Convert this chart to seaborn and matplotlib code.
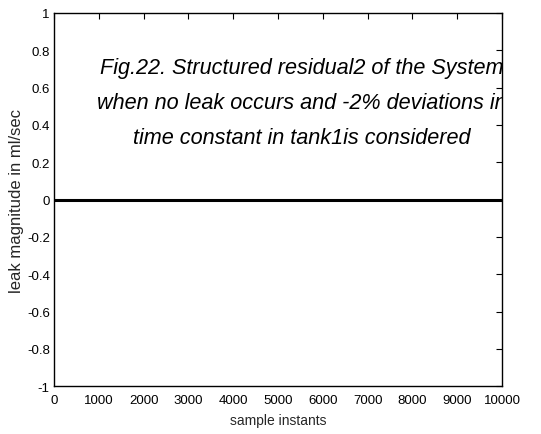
import matplotlib
matplotlib.use("Agg")
import matplotlib.pyplot as plt
import seaborn as sns
import pandas as pd

# Structured residual 2 over the run (stays at zero throughout)
sample_instants = [0, 10000]
residual2 = [0.0, 0.0]

x_ticks = [0, 1000, 2000, 3000, 4000, 5000, 6000, 7000, 8000, 9000, 10000]
y_ticks = [-1, -0.8, -0.6, -0.4, -0.2, 0, 0.2, 0.4, 0.6, 0.8, 1]
y_tick_labels = ["-1", "-0.8", "-0.6", "-0.4", "-0.2", "0", "0.2", "0.4", "0.6", "0.8", "1"]

caption = ("Fig.22. Structured residual2 of the System\n"
           "when no leak occurs and -2% deviations in\n"
           "time constant in tank1is considered")

sns.set_theme(style="white")
plt.rcParams["font.family"] = ["Liberation Sans", "DejaVu Sans"]

df = pd.DataFrame({"sample instants": sample_instants, "residual": residual2})

fig = plt.figure(figsize=(5.41, 4.35), dpi=100)
ax = fig.add_axes([0.0998, 0.110, 0.8282, 0.858])

sns.lineplot(data=df, x="sample instants", y="residual", color="black",
             linewidth=2.2, ax=ax)

ax.set_xlim(0, 10000)
ax.set_ylim(-1, 1)
ax.set_xticks(x_ticks)
ax.set_xticklabels([str(t) for t in x_ticks])
ax.set_yticks(y_ticks)
ax.set_yticklabels(y_tick_labels)
ax.tick_params(direction="in", length=4.5, width=0.8, top=True, right=True,
               labelsize=9.5, colors="black", pad=3)
ax.tick_params(axis="x", pad=6)
for s in ax.spines.values():
    s.set_color("black")
    s.set_linewidth(1.0)

ax.set_xlabel("sample instants", fontsize=10, labelpad=5)
ax.set_ylabel("leak magnitude in ml/sec", fontsize=12, labelpad=2)

ax.text(5536, 0.52, caption, ha="center", va="center", fontsize=15.6,
        style="italic", color="black", linespacing=1.9, clip_on=True)

fig.savefig("out.png", dpi=100, facecolor="white")
